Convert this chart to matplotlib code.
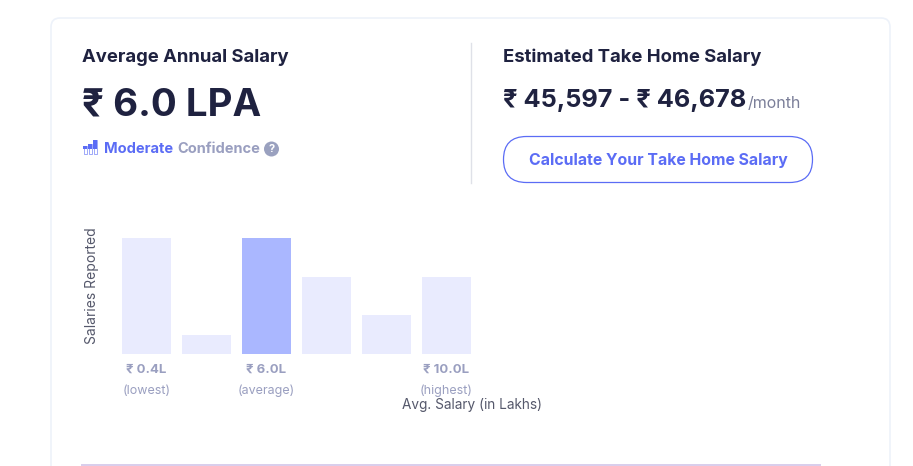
import matplotlib
matplotlib.use('Agg')
import matplotlib.pyplot as plt
from matplotlib.patches import FancyBboxPatch, Rectangle, Circle

plt.rcParams['font.family'] = ['Inter', 'DejaVu Sans']

# data
salary_bins = [0, 1, 2, 3, 4, 5]
salaries_reported = [6, 1, 6, 4, 2, 4]
highlight_bin = 2
tick_bins = [0, 2, 5]
tick_labels = ['₹ 0.4L', '₹ 6.0L', '₹ 10.0L']
tick_notes = ['(lowest)', '(average)', '(highest)']

DARK = '#1f2240'
BLUE = '#5b6cf5'
GREY = '#9a9fc0'
W, H = 913, 466

fig = plt.figure(figsize=(W / 100, H / 100), dpi=100)

# фон в пикселях
bg = fig.add_axes([0, 0, 1, 1])
bg.set_xlim(0, W)
bg.set_ylim(H, 0)
bg.axis('off')

bg.add_patch(FancyBboxPatch((51, 18), 839, 480, boxstyle='round,pad=0,rounding_size=9',
                            fc='white', ec='#edf2fa', lw=1.2))
bg.plot([471, 471], [43, 183], color='#dfe1e8', lw=1)
bg.plot([82, 820], [465, 465], color='#d8cdec', lw=1.4, clip_on=False)

bg.text(82, 57.5, 'Average Annual Salary', fontsize=13.3, fontweight='bold', color=DARK, va='center')
bg.text(82, 106, '₹ 6.0 LPA', fontsize=27.7, fontweight='bold', color=DARK, va='center')

# значок уверенности
for x, h in [(83, 8), (88, 10), (93, 14)]:
    bg.add_patch(Rectangle((x + .5, 153.5 - h), 3.5, h, fc='white', ec='#8f9bf8', lw=0.6))
    bg.add_patch(Rectangle((x, 153.5 - h), 4.2, h - 5, fc=BLUE, ec='none'))
bg.text(104, 149, 'Moderate', fontsize=10.5, fontweight='bold', color=BLUE, va='center')
bg.text(177, 149, 'Confidence', fontsize=10.5, fontweight='bold', color=GREY, va='center')
bg.add_patch(Circle((271.5, 149), 7.5, fc='#9aa1bf', ec='none'))
bg.text(271.5, 149.5, '?', fontsize=8, fontweight='bold', color='white', va='center', ha='center')

bg.text(503, 57.5, 'Estimated Take Home Salary', fontsize=13.3, fontweight='bold', color=DARK, va='center')
bg.text(503, 101, '₹ 45,597 - ₹ 46,678', fontsize=18.25, fontweight='bold', color=DARK, va='center')
bg.text(748, 103, '/month', fontsize=11.5, color='#7b7f99', va='center')

bg.add_patch(FancyBboxPatch((503.5, 136.5), 309, 46, boxstyle='round,pad=0,rounding_size=23',
                            fc='white', ec=BLUE, lw=0.9))
bg.text(658, 160.5, 'Calculate Your Take Home Salary', fontsize=11.4, fontweight='bold',
        color=BLUE, va='center', ha='center')

# гистограмма
ax = fig.add_axes([122 / W, 1 - 354 / H, 349 / W, 116 / H])
ax.patch.set_alpha(0)
colors = ['#aab7ff' if b == highlight_bin else '#e9ebfe' for b in salary_bins]
ax.bar(salary_bins, salaries_reported, width=49 / 60, color=colors)
ax.set_xlim(-24.5 / 60, 5 + 24.5 / 60)
ax.set_ylim(0, 6)
for s in ax.spines.values():
    s.set_visible(False)
ax.set_yticks([])
ax.set_xticks(tick_bins)
ax.set_xticklabels(tick_labels, fontsize=9.5, fontweight='bold', color=GREY)
ax.tick_params(axis='x', length=0, pad=6.7)
for b, note in zip(tick_bins, tick_notes):
    ax.annotate(note, (b, 0), xytext=(0, -22.2), textcoords='offset points', fontsize=9,
                color=GREY, ha='center', va='top', annotation_clip=False)

bg.text(92, 286, 'Salaries Reported', fontsize=10, color='#55586b', rotation=90, va='center', ha='center')
bg.text(471.5, 405.5, 'Avg. Salary (in Lakhs)', fontsize=9.8, color='#55586b', va='center', ha='center')

fig.savefig('out.png', dpi=100)
